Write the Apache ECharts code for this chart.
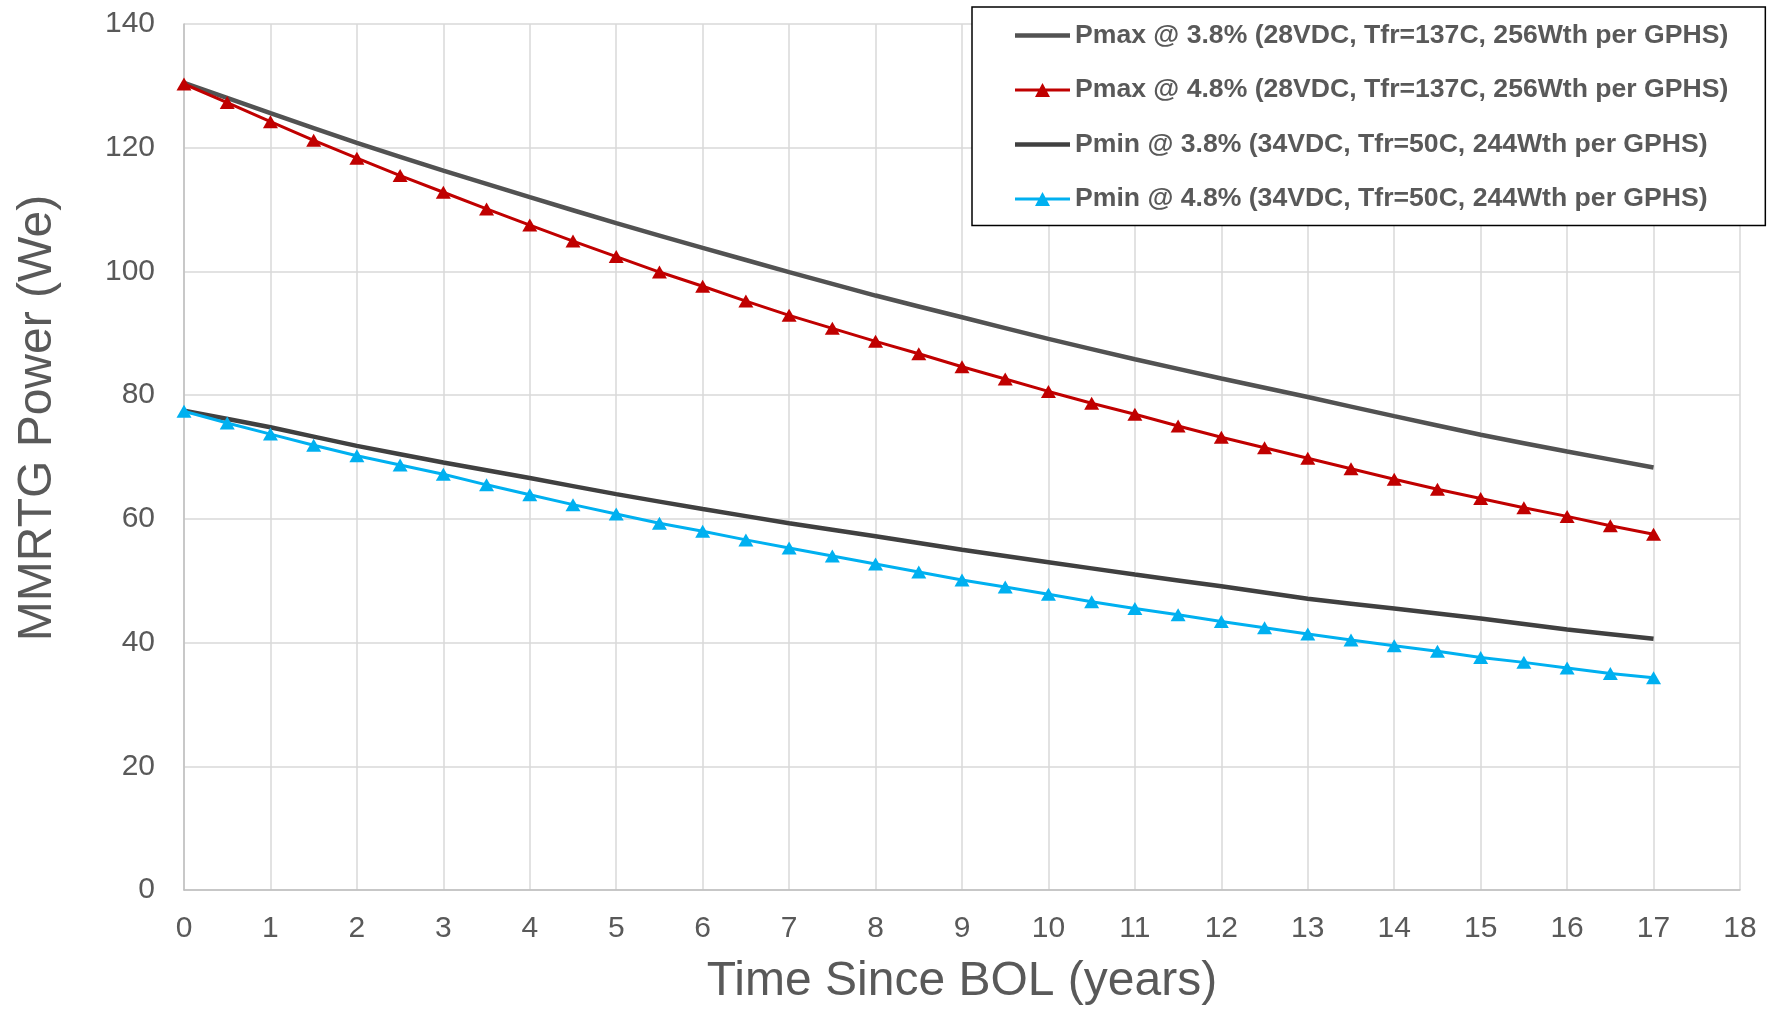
<!DOCTYPE html>
<html>
<head>
<meta charset="utf-8">
<script src="https://cdn.jsdelivr.net/npm/echarts@6/dist/echarts.min.js"></script>
<style>
html,body{margin:0;padding:0;background:#fff;}
#chart{width:1775px;height:1011px;}
</style>
</head>
<body>
<div id="chart"></div>
<script>
// ---- data ----
var seriesNames = [
  'Pmax @ 3.8% (28VDC, Tfr=137C, 256Wth per GPHS)',
  'Pmax @ 4.8% (28VDC, Tfr=137C, 256Wth per GPHS)',
  'Pmin @ 3.8% (34VDC, Tfr=50C, 244Wth per GPHS)',
  'Pmin @ 4.8% (34VDC, Tfr=50C, 244Wth per GPHS)'
];
var yearsWhole = [0,1,2,3,4,5,6,7,8,9,10,11,12,13,14,15,16,17];
var yearsHalf = [0,0.5,1,1.5,2,2.5,3,3.5,4,4.5,5,5.5,6,6.5,7,7.5,8,8.5,9,9.5,10,10.5,11,11.5,12,12.5,13,13.5,14,14.5,15,15.5,16,16.5,17];
var pmax38 = [130.5,125.6,120.8,116.3,112.0,107.8,103.8,99.9,96.1,92.6,89.1,85.8,82.7,79.7,76.6,73.6,70.9,68.3];
var pmax48 = [130.3,127.3,124.2,121.2,118.3,115.5,112.8,110.1,107.5,104.9,102.4,99.9,97.6,95.2,92.9,90.8,88.7,86.7,84.6,82.6,80.6,78.7,76.9,75.0,73.2,71.5,69.8,68.1,66.4,64.8,63.3,61.8,60.4,58.9,57.5];
var pmin38 = [77.5,74.8,71.8,69.1,66.6,64.0,61.6,59.3,57.2,55.0,53.0,51.0,49.1,47.1,45.5,43.9,42.1,40.6];
var pmin48 = [77.4,75.5,73.7,71.9,70.2,68.7,67.2,65.5,63.9,62.3,60.8,59.3,58.0,56.6,55.3,54.0,52.7,51.4,50.1,49.0,47.8,46.6,45.5,44.5,43.4,42.4,41.4,40.4,39.5,38.6,37.6,36.8,35.9,35.0,34.3];
var xTicks = {min:0, max:18, step:1};
var yTicks = {min:0, max:140, step:20};
var xTitle = 'Time Since BOL (years)';
var yTitle = 'MMRTG Power (We)';

function pairs(xs, ys){ return xs.map(function(x,i){ return [x, ys[i]]; }); }

var FONT = '"Liberation Sans", Arial, sans-serif';
var TXT = '#595959';
var ICON_LINE = 'path://M0,0 H55 V4.5 H0 Z';
var ICON_TRI = 'path://M0,5.5 H55 V8.5 H0 Z M20,14 L27.5,0 L35,14 Z';
var colors = ['#525252', '#C00000', '#404040', '#00B0F0'];

var chart = echarts.init(document.getElementById('chart'), null, {renderer:'canvas'});
chart.setOption({
  animation:false,
  backgroundColor:'#ffffff',
  grid:{left:184, right:35, top:24, bottom:117, containLabel:false},
  legend:{
    orient:'vertical',
    left:972, top:7,
    padding:[15,37,13,43],
    itemGap:27.5,
    itemWidth:55,
    itemHeight:14,
    symbolKeepAspect:true,
    borderColor:'#000000',
    borderWidth:1.5,
    backgroundColor:'#ffffff',
    textStyle:{fontFamily:FONT, fontSize:26.6, fontWeight:'bold', color:TXT, lineHeight:27},
    data:[
      {name:seriesNames[0], icon:ICON_LINE, itemStyle:{color:colors[0]}},
      {name:seriesNames[1], icon:ICON_TRI, itemStyle:{color:colors[1]}},
      {name:seriesNames[2], icon:ICON_LINE, itemStyle:{color:colors[2]}},
      {name:seriesNames[3], icon:ICON_TRI, itemStyle:{color:colors[3]}}
    ]
  },
  xAxis:{
    type:'value', min:xTicks.min, max:xTicks.max, interval:xTicks.step,
    name:xTitle, nameLocation:'middle', nameGap:68,
    nameTextStyle:{fontFamily:FONT, fontSize:48, color:TXT},
    axisLine:{show:true, lineStyle:{color:'#bfbfbf', width:1.5}},
    axisTick:{show:false},
    axisLabel:{fontFamily:FONT, fontSize:30, color:TXT, margin:24},
    splitLine:{show:true, lineStyle:{color:'#d9d9d9', width:1.5}}
  },
  yAxis:{
    type:'value', min:yTicks.min, max:yTicks.max, interval:yTicks.step,
    name:yTitle, nameLocation:'middle', nameGap:122,
    nameTextStyle:{fontFamily:FONT, fontSize:48, color:TXT, padding:[0,0,0,78]},
    axisLine:{show:true, lineStyle:{color:'#bfbfbf', width:1.5}},
    axisTick:{show:false},
    axisLabel:{fontFamily:FONT, fontSize:30, color:TXT, margin:29},
    splitLine:{show:true, lineStyle:{color:'#d9d9d9', width:1.5}}
  },
  series:[
    {name:seriesNames[0], type:'line', data:pairs(yearsWhole,pmax38), symbol:'none', smooth:0.2,
     lineStyle:{color:colors[0], width:4.5}, itemStyle:{color:colors[0]}},
    {name:seriesNames[1], type:'line', data:pairs(yearsHalf,pmax48), symbol:'triangle', symbolSize:[15,13], showSymbol:true,
     lineStyle:{color:colors[1], width:3}, itemStyle:{color:colors[1]}},
    {name:seriesNames[2], type:'line', data:pairs(yearsWhole,pmin38), symbol:'none', smooth:0.2,
     lineStyle:{color:colors[2], width:4.5}, itemStyle:{color:colors[2]}},
    {name:seriesNames[3], type:'line', data:pairs(yearsHalf,pmin48), symbol:'triangle', symbolSize:[15,13], showSymbol:true,
     lineStyle:{color:colors[3], width:3}, itemStyle:{color:colors[3]}}
  ]
});
</script>
</body>
</html>
